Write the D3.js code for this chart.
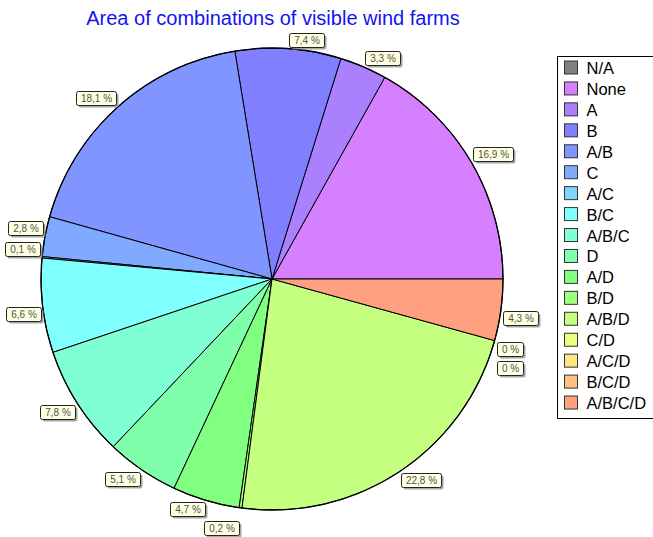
<!DOCTYPE html>
<html>
<head>
<meta charset="utf-8">
<script src="https://cdn.jsdelivr.net/npm/d3@7"></script>
<style>
body { margin: 0; background: #fff; }
text { font-family: Arial, "Liberation Sans", sans-serif; }
</style>
</head>
<body>
<div id="chart"></div>
<script>
// values (percent of area)
var categories = ["N/A", "None", "A", "B", "A/B", "C", "A/C", "B/C", "A/B/C", "D", "A/D", "B/D", "A/B/D", "C/D", "A/C/D", "B/C/D", "A/B/C/D"];
var shares = [0, 16.9, 3.3, 7.4, 18.1, 2.8, 0.1, 6.6, 7.8, 5.1, 4.7, 0.2, 22.8, 0, 0, 0, 4.3];
// which slices carry a value label in the original
var labelled = [false, true, true, true, true, true, true, true, true, true, true, true, true, true, true, false, true];
var colours = ["#808080", "#d580ff", "#aa80ff", "#8080ff", "#8095ff", "#80aaff", "#80d5ff", "#80ffff", "#80ffd5", "#80ffaa", "#80ff80", "#a0ff80", "#c5ff80", "#eaff80", "#ffe680", "#ffc080", "#ffa080"];
var title = "Area of combinations of visible wind farms";

var width = 653, height = 537;
var cx = 272, cy = 279, radius = 231;

var svg = d3.select("#chart")
    .append("svg")
    .attr("width", width)
    .attr("height", height);

svg.append("text")
    .attr("x", 273)
    .attr("y", 25)
    .attr("text-anchor", "middle")
    .style("font-size", "20px")
    .style("fill", "#1414f0")
    .text(title);

var data = categories.map(function (c, i) {
    return { name: c, value: shares[i], colour: colours[i], label: labelled[i] };
});

// pie goes counter-clockwise starting at 3 o'clock
var pie = d3.pie()
    .sort(null)
    .value(function (d) { return d.value; })
    .startAngle(Math.PI / 2)
    .endAngle(Math.PI / 2 - 2 * Math.PI);

var arc = d3.arc().innerRadius(0).outerRadius(radius);

var g = svg.append("g")
    .attr("transform", "translate(" + cx + "," + cy + ")");

var arcs = pie(data);

g.selectAll("path.slice")
    .data(arcs.filter(function (d) { return d.data.value > 0; }))
    .enter()
    .append("path")
    .attr("class", "slice")
    .attr("d", arc)
    .attr("fill", function (d) { return d.data.colour; })
    .attr("stroke", "#000")
    .attr("stroke-width", 1)
    .attr("stroke-linejoin", "round");

g.append("circle")
    .attr("r", radius)
    .attr("fill", "none")
    .attr("stroke", "#000")
    .attr("stroke-width", 1.3);

// value labels, placed at the rim and nudged apart when they collide
function fmt(v) {
    if (v === 0) return "0 %";
    return v.toFixed(1).replace(".", ",") + " %";
}

var placed = [];
var boxH = 14, gap = 5, margin = 6;

function hits(b) {
    for (var i = 0; i < placed.length; i++) {
        var p = placed[i];
        if (b.x < p.x + p.w + margin && b.x + b.w + margin > p.x &&
            b.y < p.y + p.h + margin && b.y + b.h + margin > p.y) return p;
    }
    return null;
}

var labelLayer = g.append("g");

arcs.forEach(function (d) {
    if (!d.data.label) return;
    var mid = (d.startAngle + d.endAngle) / 2;
    var px = Math.sin(mid) * (radius + 1);
    var py = -Math.cos(mid) * (radius + 1);

    var lg = labelLayer.append("g");
    var t = lg.append("text")
        .style("font-size", "10px")
        .style("fill", "#505050")
        .text(fmt(d.data.value));
    var tw = t.node().getComputedTextLength();
    var w = Math.round(tw + 9);

    var b = { x: px >= 0 ? px + 1 : px - w - 1, y: py < 0 ? py - boxH - 1 : py + 1, w: w, h: boxH };
    var other = hits(b), n = 0;
    while (other && n < 10) {
        if (py >= 0) b.y = other.y + other.h + gap;
        else b.y = other.y - b.h - gap;
        other = hits(b);
        n++;
    }
    placed.push(b);

    lg.attr("transform", "translate(" + Math.round(b.x) + "," + Math.round(b.y) + ")");
    lg.insert("rect", "text")
        .attr("x", 2.5).attr("y", 2.5)
        .attr("width", w).attr("height", boxH)
        .attr("rx", 2)
        .attr("fill", "#8a8a8a")
        .attr("opacity", 0.75);
    lg.insert("rect", "text")
        .attr("x", 0.5).attr("y", 0.5)
        .attr("width", w).attr("height", boxH)
        .attr("rx", 2)
        .attr("fill", "#ffffe1")
        .attr("stroke", "#222")
        .attr("stroke-width", 1);
    t.attr("x", 0.5 + w / 2)
        .attr("y", 11)
        .attr("text-anchor", "middle");
});

// legend
var legX = 557.5, legY = 56.5, step = 20.94;

var legend = svg.append("g");
legend.append("rect")
    .attr("x", legX).attr("y", legY)
    .attr("width", 110).attr("height", 362)
    .attr("fill", "#fff")
    .attr("stroke", "#000")
    .attr("stroke-width", 1);

var items = legend.selectAll("g.item")
    .data(data)
    .enter()
    .append("g")
    .attr("class", "item")
    .attr("transform", function (d, i) {
        return "translate(" + (legX + 7) + "," + (68 + i * step) + ")";
    });

items.append("rect")
    .attr("x", 0).attr("y", -7)
    .attr("width", 13).attr("height", 13)
    .attr("fill", function (d) { return d.colour; })
    .attr("stroke", "#333")
    .attr("stroke-width", 1);

items.append("text")
    .attr("x", 22)
    .attr("y", 6)
    .style("font-size", "16.5px")
    .style("fill", "#000")
    .text(function (d) { return d.name; });
</script>
</body>
</html>
